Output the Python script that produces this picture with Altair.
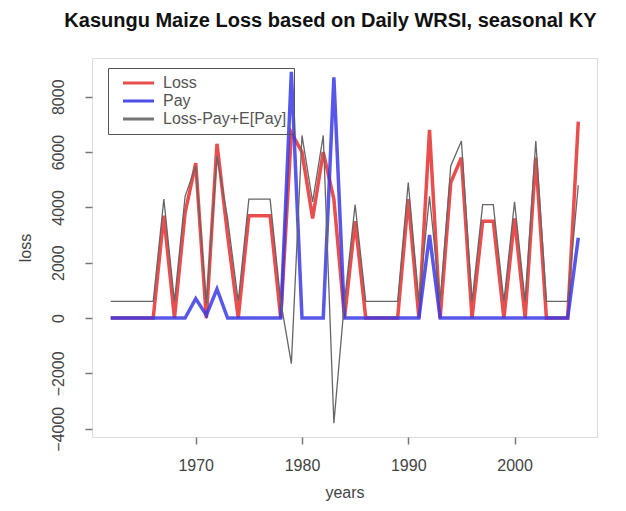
import altair as alt
import pandas as pd

years = list(range(1962, 2007))

loss = [0, 0, 0, 0, 0, 3700, 0, 3800, 5600, 0,
        6300, 3000, 0, 3700, 3700, 3700, 0, 6700, 6000, 3600,
        6000, 4300, 0, 3500, 0, 0, 0, 0, 4300, 0,
        6800, 0, 4900, 5800, 0, 3500, 3500, 0, 3600, 0,
        5800, 0, 0, 0, 7100]

pay = [0, 0, 0, 0, 0, 0, 0, 0, 700, 100,
       1050, 0, 0, 0, 0, 0, 0, 8900, 0, 0,
       0, 8700, 0, 0, 0, 0, 0, 0, 0, 0,
       3000, 0, 0, 0, 0, 0, 0, 0, 0, 0,
       0, 0, 0, 0, 2900]

adjusted = [600, 600, 600, 600, 600, 4300, 600, 4400, 5500, 500,
            5850, 3600, 600, 4300, 4300, 4300, 600, -1650, 6600, 4200,
            6600, -3800, 600, 4100, 600, 600, 600, 600, 4900, 600,
            4400, 600, 5500, 6400, 600, 4100, 4100, 600, 4200, 600,
            6400, 600, 600, 600, 4800]

series_names = ["Loss", "Pay", "Loss-Pay+E[Pay]"]
series_colors = ["#e83a3a", "#3a3ae6", "#666666"]

rows = []
for name, vals in zip(series_names, [loss, pay, adjusted]):
    for y, v in zip(years, vals):
        rows.append({"year": y, "value": v, "series": name})
df = pd.DataFrame(rows)

FONT = "Liberation Sans"

x_enc = alt.X("year:Q",
              scale=alt.Scale(domain=[1960.24, 2007.76], nice=False, zero=False),
              axis=alt.Axis(values=[1970, 1980, 1990, 2000], format="d", grid=False,
                            domain=False, tickSize=7, tickColor="#777", tickWidth=1.5,
                            labelFontSize=16, labelColor="#444", labelPadding=13,
                            labelFont=FONT, title="years", titleFontSize=16,
                            titleFontWeight="normal", titleColor="#444",
                            titleFont=FONT, titlePadding=11))
y_enc = alt.Y("value:Q",
              scale=alt.Scale(domain=[-4300, 9400], nice=False, zero=False),
              axis=alt.Axis(values=[-4000, -2000, 0, 2000, 4000, 6000, 8000],
                            format="d", grid=False, domain=False, tickSize=7,
                            tickColor="#777", tickWidth=1.5,
                            labelAngle=270, labelAlign="center", labelBaseline="bottom",
                            labelFontSize=16, labelColor="#444", labelPadding=19,
                            labelFont=FONT, title="loss", titleFontSize=16,
                            titleFontWeight="normal", titleColor="#444",
                            titleFont=FONT, titlePadding=17))
color_enc = alt.Color("series:N",
                      scale=alt.Scale(domain=series_names, range=series_colors),
                      legend=alt.Legend(title=None, orient="none", legendX=16, legendY=10,
                                        symbolType="M0,0H6", symbolSize=107,
                                        symbolStrokeWidth=3, labelFontSize=16,
                                        labelFont=FONT, labelColor="#555",
                                        labelOffset=32, padding=7, rowPadding=2,
                                        strokeColor="#555", labelLimit=300))

base = alt.Chart(df).encode(x=x_enc, y=y_enc, color=color_enc)

red = base.transform_filter(alt.datum.series == "Loss").mark_line(strokeWidth=3.5, opacity=0.9)
blue = base.transform_filter(alt.datum.series == "Pay").mark_line(strokeWidth=3.5, opacity=0.85)
gray = base.transform_filter(alt.datum.series == "Loss-Pay+E[Pay]").mark_line(strokeWidth=1.3)

chart = alt.layer(red, blue, gray).properties(
    width=505,
    height=379,
    title=alt.TitleParams(text="Kasungu Maize Loss based on Daily WRSI, seasonal KY",
                          fontSize=20, fontWeight="bold", font=FONT, anchor="middle",
                          offset=27, dx=-14, color="#111"),
    autosize=alt.AutoSizeParams(type="none"),
    padding={"left": 84, "top": 50, "right": 21, "bottom": 66},
).configure_view(stroke="#888", strokeWidth=2).configure(background="white")

chart.save("out.html", embed_options={"renderer": "svg", "actions": False})
